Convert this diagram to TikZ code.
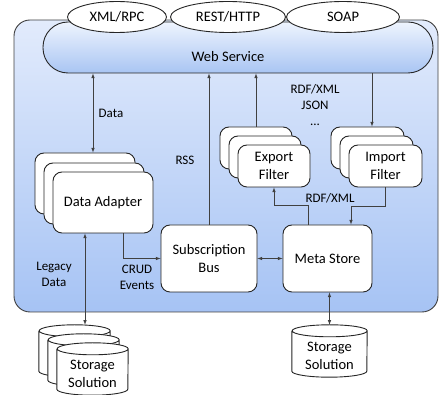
\documentclass[tikz,border=0pt]{standalone}
\usepackage{fontspec}
\setmainfont{Carlito}
\usepackage{xcolor}
\usepackage{tikz}
\usetikzlibrary{shapes.geometric,arrows,positioning,calc}
\definecolor{paneltop}{HTML}{E2EBFC}
\definecolor{panelbot}{HTML}{A6C3F4}
\definecolor{wstop}{HTML}{EEF4FE}
\definecolor{wsbot}{HTML}{A9C5F3}
\newcommand{\boxtext}{\fontsize{14.5}{17.5}\selectfont}
\newcommand{\labtext}{\fontsize{13}{16}\selectfont}
\newcommand{\storecyl}[2]{%
	\filldraw[storeline] ($(#1.north west)+(0,6)$) -- ($(#1.south west)+(0,-6)$)
		arc[start angle=180,end angle=360,x radius=#2pt,y radius=6pt]
		-- ($(#1.north east)+(0,6)$)
		arc[start angle=0,end angle=180,x radius=#2pt,y radius=6pt]
		arc[start angle=180,end angle=360,x radius=#2pt,y radius=6pt];}

\begin{document}
\begin{tikzpicture}[x=1pt,y=-1pt,>=latex,
	box/.style={draw=black!85,line width=0.9pt,fill=white,rounded corners=9pt,align=center,inner sep=0pt,font=\boxtext},
	proto/.style={draw=black!85,line width=0.9pt,fill=white,ellipse,inner sep=0pt,font=\boxtext},
	slot/.style={inner sep=0pt,minimum width=71pt,minimum height=52pt},
	storeline/.style={draw=black!85,line width=0.9pt,fill=white},
	link/.style={black!75,line width=0.6pt},
	lab/.style={align=center,font=\labtext}]
		\useasboundingbox (0,0) rectangle (440,395);
		\draw[rounded corners=16pt,top color=paneltop,bottom color=panelbot,draw=black!75,line width=0.9pt] (14,20) rectangle (438,312);
		\node[draw=black!85,line width=0.9pt,top color=wstop,bottom color=wsbot,rounded corners=25pt,minimum width=390pt,minimum height=51pt] (ws) at (238,47.5) {};
		\node[font=\boxtext] (wslabel) at (228,57) {Web Service};
		\node[proto,minimum width=99pt,minimum height=31pt] (xmlrpc) at (117,17) {XML/RPC};
		\node[proto,minimum width=115pt,minimum height=31pt] (rest) at (228,17) {REST/HTTP};
		\node[proto,minimum width=113pt,minimum height=31pt] (soap) at (343,17) {SOAP};
		\node[box,minimum width=100pt,minimum height=61pt] (adb) at (85,183.5) {};
		\node[box,minimum width=100pt,minimum height=61pt] (adm) at (94,193.5) {};
		\node[box,minimum width=100pt,minimum height=61pt] (ada) at (103,202.5) {Data Adapter};
		\node[box,minimum width=72pt,minimum height=42pt] (exb) at (256,148) {};
		\node[box,minimum width=72pt,minimum height=42pt] (exm) at (265,157) {};
		\node[box,minimum width=72pt,minimum height=42pt] (exf) at (274,166) {Export\\Filter};
		\node[box,minimum width=73pt,minimum height=42pt] (imb) at (367.5,148) {};
		\node[box,minimum width=73pt,minimum height=42pt] (imm) at (376.5,157) {};
		\node[box,minimum width=73pt,minimum height=42pt] (imf) at (385.5,166) {Import\\Filter};
		\node[box,minimum width=96pt,minimum height=67pt] (sb) at (209,258.5) {Subscription\\Bus};
		\node[box,minimum width=89pt,minimum height=67pt] (ms) at (327.5,258.5) {Meta Store};
		% storage cylinders
		\node[slot] (sdb) at (74.5,351) {};
		\node[slot] (sdm) at (83.5,360) {};
		\node[slot] (sdf) at (92.5,369) {};
		\node[slot,minimum width=75pt] (st) at (329.5,351) {};
		\storecyl{sdb}{35.5}
		\storecyl{sdm}{35.5}
		\storecyl{sdf}{35.5}
		\storecyl{st}{37.5}
		\node[lab,font=\boxtext] (sdftext) at ($(sdf)+(0,5)$) {Storage\\Solution};
		\node[lab,font=\boxtext] (sttext) at ($(st)+(0,5)$) {Storage\\Solution};
		\coordinate (dataX) at (93,0);
		\coordinate (impX) at (372,0);
		\coordinate (crudX) at (123,0);
		\coordinate (legX) at (85,0);
		\coordinate (msoutX) at (308,0);
		\coordinate (msinX) at (351,0);
		\draw[link,<->] (ws.south -| dataX) -- (adb.north -| dataX);
		\draw[link,->] (sb.north) -- (sb.north |- ws.south);
		\draw[link,->] (exb.north) -- (exb.north |- ws.south);
		\draw[link,->] (ws.south -| impX) -- (imb.north -| impX);
		\draw[link,->] (ada.south -| crudX) |- (sb.west);
		\draw[link,<->] (ada.south -| legX) -- (sdb.north -| legX);
		\draw[link,<->] (sb.east) -- (ms.west);
		\draw[link,->] (ms.north -| msoutX) -- ++(0,-19) -| (exf.south);
		\draw[link,->] (imf.south) -- ++(0,19) -| (ms.north -| msinX);
		\draw[link,<->] (ms.south -| st.north) -- (st.north);
		\node[lab] (datalab) at (111,113) {Data};
		\node[lab] (rsslab) at (185,160) {RSS};
		\node[lab] (fmtlab) at (315,105) {RDF/XML\\JSON\\...};
		\node[lab] (rdflab) at (330,198) {RDF/XML};
		\node[lab] (leglab) at (54,274) {Legacy\\Data};
		\node[lab] (crudlab) at (137,277.5) {CRUD\\Events};
	\end{tikzpicture}
\end{document}
